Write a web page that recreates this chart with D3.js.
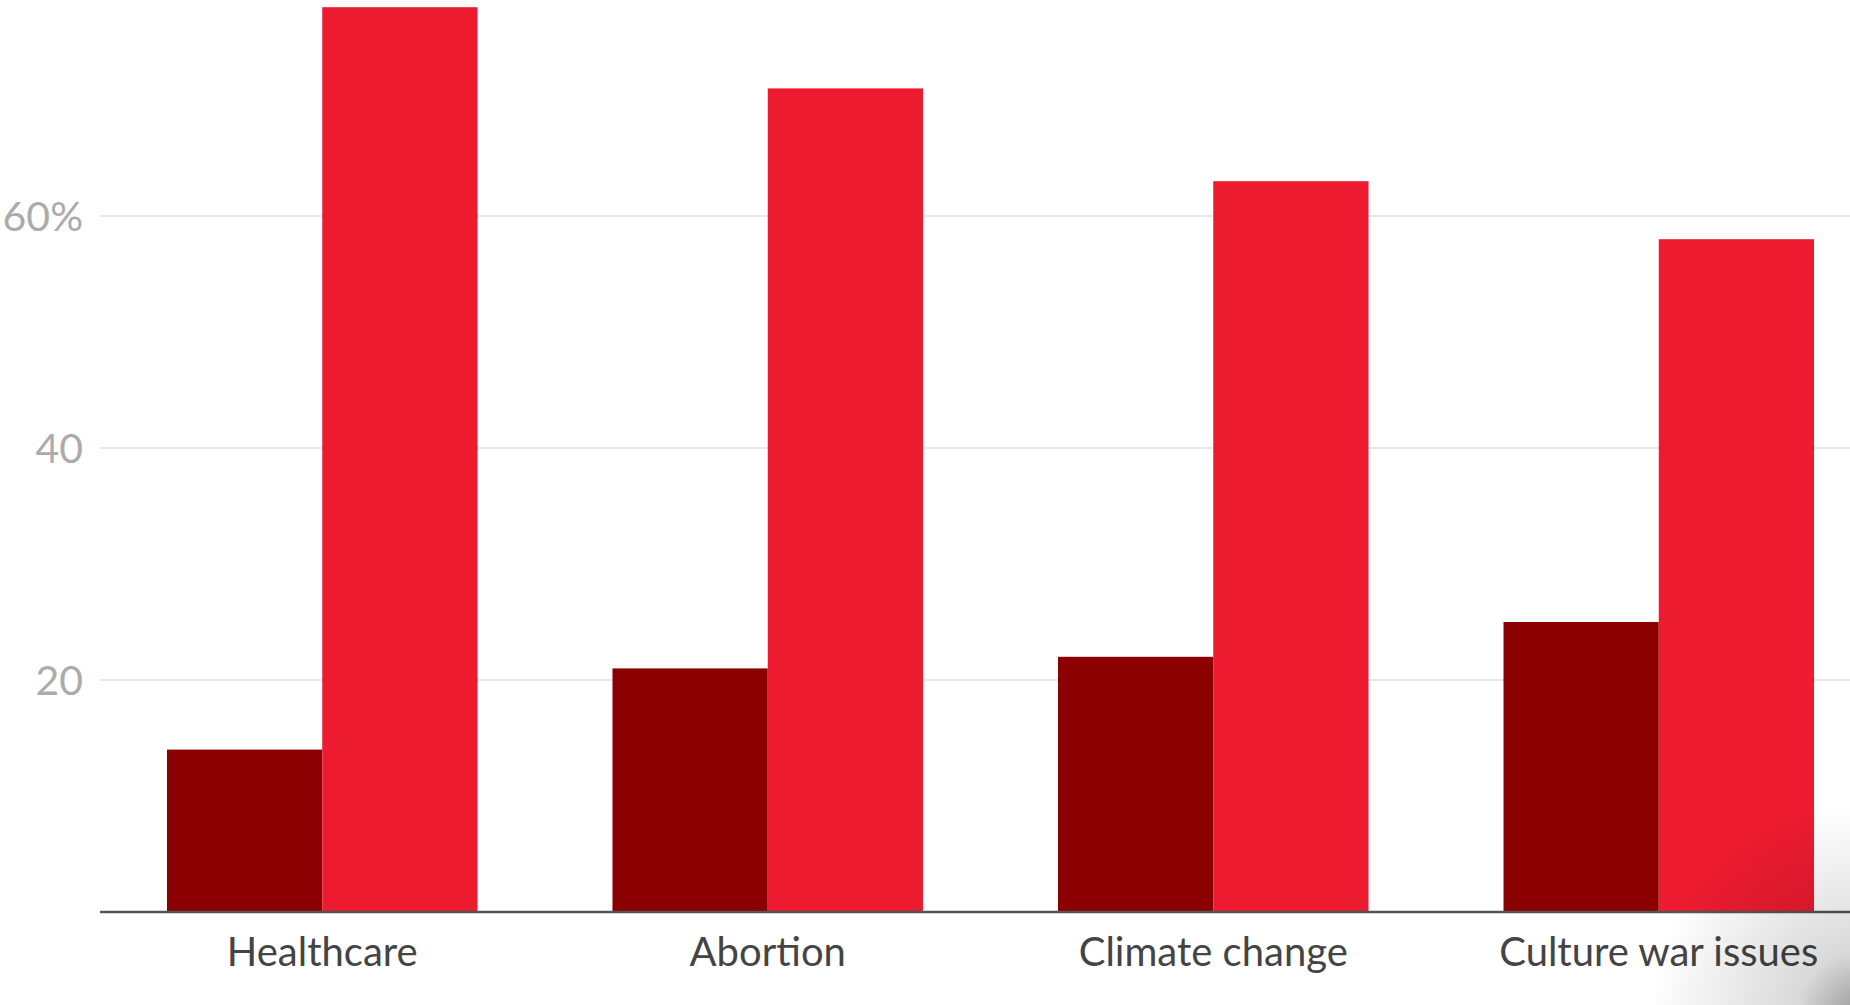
<!DOCTYPE html>
<html>
<head>
<meta charset="utf-8">
<script src="https://cdn.jsdelivr.net/npm/d3@7"></script>
<style>
  html, body { margin: 0; padding: 0; background: #fff; }
  svg { display: block; }
</style>
</head>
<body>
<svg id="chart" width="1850" height="1005"></svg>
<script>
const categories = ["Healthcare", "Abortion", "Climate change", "Culture war issues"];
const seriesNames = ["Group A", "Group B"];
const seriesA = [14, 21, 22, 25];
const seriesB = [78, 71, 63, 58];
const yTicks = [20, 40, 60];
const seriesColors = ["#8b0000", "#ec1b30"];

const data = categories.map((c, i) => ({ cat: c, values: [seriesA[i], seriesB[i]] }));

const svg = d3.select("#chart");
const W = 1850, H = 1005;
const y0 = 912;
const x = d3.scaleBand().domain(categories).range([130, 1851]).paddingInner(0.303).paddingOuter(0.083);
const xs = d3.scaleBand().domain(seriesNames).range([0, x.bandwidth()]).padding(0);
const y = d3.scaleLinear().domain([0, 60]).range([y0, 216]);

// gridlines
svg.append("g").selectAll("line").data(yTicks).join("line")
  .attr("x1", 100).attr("x2", W)
  .attr("y1", d => y(d)).attr("y2", d => y(d))
  .attr("stroke", "#e8e8e8").attr("stroke-width", 2);

// y labels
const yAxis = d3.axisLeft(y).tickValues(yTicks).tickSize(0).tickPadding(0)
  .tickFormat(d => d === 60 ? "60%" : d);
const yg = svg.append("g").attr("transform", "translate(83,0)").call(yAxis);
yg.select(".domain").remove();
yg.selectAll("text").attr("font-family", "Lato, 'Open Sans', sans-serif")
  .attr("font-size", 41).attr("fill", "#ababab").attr("dy", "0.35em");

// bars
svg.append("g").selectAll("g").data(data).join("g")
  .attr("transform", d => `translate(${x(d.cat)},0)`)
  .selectAll("rect").data(d => d.values.map((v, i) => ({ v, s: seriesNames[i], i })))
  .join("rect")
  .attr("x", d => xs(d.s)).attr("width", xs.bandwidth())
  .attr("y", d => y(d.v)).attr("height", d => y0 - y(d.v))
  .attr("fill", d => seriesColors[d.i]);

// x axis
const xAxis = d3.axisBottom(x).tickSize(0).tickPadding(0);
const xg = svg.append("g").attr("transform", `translate(0,${y0})`).call(xAxis);
xg.select(".domain").remove();
xg.append("line").attr("x1", 100).attr("x2", W).attr("y1", 0).attr("y2", 0)
  .attr("stroke", "#555").attr("stroke-width", 2.5);
xg.selectAll(".tick text").attr("font-family", "Lato, 'Open Sans', sans-serif")
  .attr("font-size", 40).attr("fill", "#444").attr("y", 54).attr("dy", 0);

// corner shading
const defs = svg.append("defs");
const rg = defs.append("radialGradient").attr("id", "corner")
  .attr("cx", W + 10).attr("cy", H + 10).attr("r", 210).attr("gradientUnits", "userSpaceOnUse");
rg.append("stop").attr("offset", "0%").attr("stop-color", "#000").attr("stop-opacity", 0.4);
rg.append("stop").attr("offset", "30%").attr("stop-color", "#000").attr("stop-opacity", 0.15);
rg.append("stop").attr("offset", "100%").attr("stop-color", "#000").attr("stop-opacity", 0);
svg.append("rect").attr("x", W - 220).attr("y", H - 220).attr("width", 220).attr("height", 220)
  .attr("fill", "url(#corner)").attr("pointer-events", "none");
</script>
</body>
</html>
